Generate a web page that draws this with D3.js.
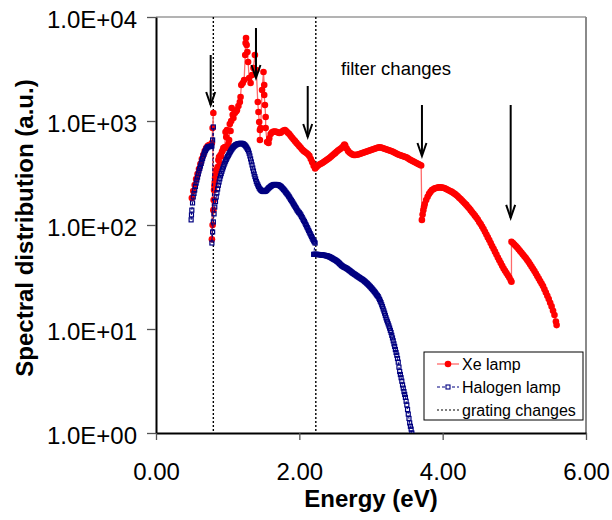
<!DOCTYPE html>
<html><head><meta charset="utf-8">
<script src="https://cdn.jsdelivr.net/npm/d3@7"></script>
<style>body{margin:0;background:#fff}svg{display:block}text{font-family:"Liberation Sans",Arial,Helvetica,sans-serif}</style>
</head><body><svg id="c" width="612" height="520"></svg>
<script>
// ---------- data ----------
const energyTicks = [0, 2, 4, 6];
const spectralTicks = [1, 10, 100, 1000, 10000];
const spectralTickLabels = ["1.0E+00", "1.0E+01", "1.0E+02", "1.0E+03", "1.0E+04"];
const gratingChanges = [0.80, 2.23];
const arrowEnergy = [0.763, 1.395, 2.117, 3.711, 4.949];
const arrowTop = [4313, 7834, 2171, 1425, 1425];
const arrowTip = [1425, 2590, 702, 461, 117];
const legendLabels = ["Xe lamp", "Halogen lamp", "grating changes"];

// Xe lamp [energy eV, spectral value]
const xeGrating1 = [[0.50,182],[0.52,212],[0.54,242],[0.56,277],[0.58,309],[0.60,346],[0.62,386],[0.64,431],[0.66,471],[0.68,515],[0.70,550],[0.72,575],[0.74,588],[0.76,588],[0.78,614],[0.79,857],[0.80,1194]];
const xeGrating2 = [[0.78,73],[0.79,100],[0.80,139],[0.805,174],[0.81,217],[0.815,240],[0.82,259],[0.825,282],[0.83,303],[0.84,338],[0.85,330],[0.86,361],[0.87,422],[0.88,451],[0.89,395],[0.90,471],[0.91,455],[0.92,503],[0.93,520],[0.94,550],[0.96,562],[0.97,784],[0.98,700],[0.99,819],[1.00,550],[1.01,600],[1.02,657],[1.03,936],[1.04,801],[1.05,1000],[1.056,1334],[1.07,1150],[1.08,1069],[1.10,1194],[1.12,1240],[1.13,1276],[1.15,1394],[1.17,1523],[1.18,1700],[1.19,2220],[1.21,2320],[1.23,2479],[1.245,4311],[1.25,5623],[1.256,6283],[1.265,5380],[1.275,4608],[1.285,3692],[1.30,2592],[1.32,2320],[1.34,2770],[1.36,3232],[1.38,4311],[1.40,3093],[1.42,1523],[1.43,1221],[1.44,978],[1.45,819],[1.45,657],[1.46,857],[1.48,1987],[1.50,2959],[1.51,2220],[1.51,1778],[1.52,1425],[1.53,1093],[1.53,857],[1.55,628],[1.57,614],[1.58,680],[1.60,750],[1.62,780],[1.64,790],[1.66,793],[1.68,788],[1.70,775],[1.72,768],[1.74,772],[1.76,793],[1.78,808],[1.80,819],[1.82,798],[1.84,772],[1.86,750],[1.88,718],[1.90,690],[1.92,664],[1.94,640],[1.96,616],[1.98,594],[2.00,573],[2.02,552],[2.04,532],[2.06,516],[2.08,503],[2.10,492],[2.12,478],[2.14,462],[2.16,431],[2.18,402],[2.20,372],[2.22,349]];
const xeGrating3 = [[2.24,362],[2.26,373],[2.28,382],[2.30,388],[2.32,394],[2.34,403],[2.36,412],[2.38,421],[2.40,431],[2.42,441],[2.44,452],[2.46,465],[2.48,478],[2.50,491],[2.52,505],[2.54,519],[2.56,532],[2.58,544],[2.60,560],[2.62,582],[2.63,594],[2.64,580],[2.66,543],[2.68,516],[2.70,498],[2.72,486],[2.74,476],[2.76,472],[2.78,471],[2.80,473],[2.82,476],[2.84,481],[2.86,487],[2.88,492],[2.90,498],[2.92,503],[2.94,509],[2.96,514],[2.98,520],[3.00,526],[3.02,532],[3.04,538],[3.06,544],[3.08,550],[3.10,556],[3.12,558],[3.14,556],[3.16,550],[3.18,544],[3.20,538],[3.22,532],[3.24,526],[3.26,520],[3.28,514],[3.30,509],[3.32,500],[3.34,492],[3.36,484],[3.38,476],[3.40,471],[3.42,466],[3.44,461],[3.46,456],[3.48,451],[3.50,446],[3.52,436],[3.54,426],[3.56,419],[3.58,413],[3.60,406],[3.62,399],[3.64,392],[3.66,386],[3.68,379],[3.70,373]];
const xeGrating4 = [[3.71,112],[3.72,126],[3.73,139],[3.74,150],[3.75,159],[3.77,174],[3.79,187],[3.81,199],[3.83,208],[3.85,217],[3.87,221],[3.89,225],[3.91,227],[3.93,229],[3.95,230],[3.97,230],[3.99,229],[4.01,228],[4.03,225],[4.05,222],[4.07,218],[4.09,215],[4.11,211],[4.13,208],[4.15,203],[4.17,199],[4.19,194],[4.21,189],[4.23,183],[4.25,178],[4.27,172],[4.29,166],[4.31,161],[4.33,156],[4.35,150],[4.37,145],[4.39,139],[4.41,133],[4.43,128],[4.45,123],[4.47,118],[4.49,113],[4.51,107],[4.53,102],[4.55,96.5],[4.57,91.5],[4.59,86],[4.61,81],[4.63,76],[4.65,71.8],[4.67,67],[4.69,62.8],[4.71,59],[4.73,55.4],[4.75,52],[4.77,48.7],[4.79,45.8],[4.81,43.1],[4.83,40.5],[4.85,38.2],[4.87,36.3],[4.89,34.6],[4.91,32.9],[4.93,31.3],[4.95,29.4],[4.96,28.5]];
const xeGrating5 = [[4.96,69.1],[4.98,67],[5.00,64.9],[5.02,62.8],[5.04,60.8],[5.06,58.5],[5.08,56.2],[5.10,54.1],[5.12,52.0],[5.14,50.1],[5.16,48.2],[5.18,46.1],[5.20,44.1],[5.22,42],[5.24,39.9],[5.26,38],[5.28,36.1],[5.30,34.2],[5.32,32.3],[5.34,30.6],[5.36,28.9],[5.38,27.4],[5.40,25.9],[5.42,24.1],[5.44,22.4],[5.46,20.9],[5.48,19.4],[5.50,17.9],[5.52,16.5],[5.54,15],[5.56,13.6],[5.58,11.8],[5.59,10.9]];

// Halogen lamp [energy eV, spectral value]
const halGrating1 = [[0.49,112],[0.495,125],[0.50,139],[0.51,163],[0.52,186],[0.53,201],[0.54,217],[0.55,235],[0.56,253],[0.57,271],[0.58,289],[0.59,310],[0.60,331],[0.61,350],[0.62,369],[0.63,391],[0.64,413],[0.65,437],[0.66,461],[0.67,482],[0.68,503],[0.69,521],[0.70,538],[0.71,550],[0.72,562],[0.73,566],[0.74,569],[0.75,569],[0.76,569],[0.77,572],[0.78,575],[0.79,657],[0.80,876]];
const halGrating2 = [[0.78,67.1],[0.79,85.7],[0.80,107],[0.81,128],[0.82,149],[0.83,168],[0.84,186],[0.85,204],[0.86,222],[0.87,241],[0.88,259],[0.89,278],[0.90,296],[0.91,312],[0.92,329],[0.93,346],[0.94,362],[0.95,379],[0.96,395],[0.97,411],[0.98,426],[0.99,441],[1.00,455],[1.01,469],[1.02,482],[1.03,497],[1.04,512],[1.05,526],[1.06,538],[1.07,551],[1.08,562],[1.09,571],[1.10,580],[1.11,588],[1.12,592],[1.13,597],[1.14,601],[1.15,604],[1.16,606],[1.17,608],[1.18,609],[1.19,609],[1.20,608],[1.21,605],[1.22,600],[1.23,594],[1.24,585],[1.25,575],[1.26,562],[1.27,548],[1.28,533],[1.29,515],[1.30,490],[1.31,461],[1.32,432],[1.33,404],[1.34,378],[1.35,353],[1.36,330],[1.37,309],[1.38,292],[1.39,277],[1.40,262],[1.41,252],[1.42,243],[1.43,235],[1.44,227],[1.45,222],[1.46,218],[1.47,215],[1.48,212],[1.49,211],[1.50,210],[1.51,210],[1.52,211],[1.53,212],[1.54,215],[1.55,218],[1.56,222],[1.57,226],[1.58,229],[1.59,232],[1.60,235],[1.61,238],[1.62,240],[1.63,242],[1.64,243.5],[1.65,245],[1.66,245],[1.67,245],[1.68,245],[1.69,244.5],[1.70,243.5],[1.71,242],[1.72,240],[1.73,238],[1.74,235],[1.75,232],[1.76,228],[1.77,224],[1.78,220],[1.79,216],[1.80,212],[1.81,207],[1.82,203],[1.83,199],[1.84,195],[1.85,190],[1.86,186],[1.87,181],[1.88,176],[1.89,172],[1.90,168],[1.91,163],[1.92,159],[1.93,155],[1.94,151],[1.95,147],[1.96,143],[1.97,139],[1.98,136],[1.99,133],[2.00,131],[2.01,128],[2.02,125],[2.03,121],[2.04,118],[2.05,114],[2.06,111],[2.07,108],[2.08,104.5],[2.09,101],[2.10,97.8],[2.11,94.5],[2.12,91.5],[2.13,88.5],[2.14,85.5],[2.15,82.7],[2.16,80.1],[2.17,77.5],[2.18,75],[2.19,72.5],[2.20,70.5],[2.21,68.8],[2.22,67.1]];
const halGrating3 = [[2.20,52.2],[2.21,52.2],[2.22,52.2],[2.23,52.2],[2.24,52.2],[2.25,52.1],[2.26,52.0],[2.27,52.0],[2.28,51.9],[2.29,51.8],[2.30,51.7],[2.31,51.6],[2.32,51.4],[2.33,51.3],[2.34,51.2],[2.35,51.1],[2.36,50.9],[2.37,50.8],[2.38,50.6],[2.39,50.4],[2.40,50.1],[2.41,49.8],[2.42,49.5],[2.43,49.1],[2.44,48.7],[2.45,48.3],[2.46,47.8],[2.47,47.3],[2.48,46.9],[2.49,46.5],[2.50,46.1],[2.51,45.6],[2.52,45.1],[2.53,44.6],[2.54,44.0],[2.55,43.4],[2.56,42.7],[2.57,42.0],[2.58,41.4],[2.59,40.8],[2.60,40.3],[2.61,39.9],[2.62,39.5],[2.63,39.2],[2.64,38.9],[2.65,38.6],[2.66,38.2],[2.67,37.8],[2.68,37.4],[2.69,36.9],[2.70,36.5],[2.71,36.1],[2.72,35.6],[2.73,35.2],[2.74,34.7],[2.75,34.3],[2.76,34.0],[2.77,33.6],[2.78,33.3],[2.79,32.9],[2.80,32.5],[2.81,32.2],[2.82,31.8],[2.83,31.5],[2.84,31.2],[2.85,30.8],[2.86,30.5],[2.87,30.2],[2.88,29.9],[2.89,29.6],[2.90,29.2],[2.91,28.8],[2.92,28.4],[2.93,28.0],[2.94,27.6],[2.95,27.2],[2.96,26.8],[2.97,26.3],[2.98,25.9],[2.99,25.5],[3.00,25.0],[3.01,24.6],[3.02,24.1],[3.03,23.7],[3.04,23.2],[3.05,22.8],[3.06,22.3],[3.07,21.8],[3.08,21.3],[3.09,20.9],[3.10,20.5],[3.11,19.8],[3.12,19.2],[3.13,18.5],[3.14,17.9],[3.15,17.1],[3.16,16.4],[3.17,15.6],[3.18,14.9],[3.19,14.2],[3.20,13.5],[3.21,12.8],[3.22,12.2],[3.23,11.7],[3.24,11.2],[3.25,10.7],[3.26,10.2],[3.27,9.7],[3.28,9.25],[3.29,8.7],[3.30,8.2],[3.31,7.7],[3.32,7.2],[3.33,6.8],[3.34,6.35],[3.35,5.95],[3.36,5.6],[3.37,5.2],[3.38,4.8],[3.39,4.3],[3.40,3.9],[3.41,3.65],[3.42,3.4],[3.43,3.15],[3.44,2.9],[3.45,2.7],[3.46,2.5],[3.47,2.35],[3.48,2.2],[3.49,2.02],[3.50,1.86],[3.51,1.68],[3.52,1.52],[3.53,1.38],[3.54,1.25],[3.55,1.16],[3.56,1.09],[3.57,1.0]];

const xeLamp = [...xeGrating1, ...xeGrating2, ...xeGrating3, ...xeGrating4, ...xeGrating5];
const halogenLamp = [...halGrating1, ...halGrating2, ...halGrating3];

// ---------- drawing ----------
const svg = d3.select("#c");
const L = 156, R = 586, T = 17, B = 433;
const x = d3.scaleLinear().domain([0, 6]).range([L, R]);
const y = d3.scaleLog().domain([1, 10000]).range([B, T]);
const font = '"Liberation Sans",Arial,Helvetica,sans-serif';

svg.append("defs").append("clipPath").attr("id", "plot")
  .append("rect").attr("x", L).attr("y", T - 2).attr("width", R - L).attr("height", B - T + 2);

// frame top/right
svg.append("line").attr("x1", L).attr("x2", R).attr("y1", T).attr("y2", T).attr("stroke", "#9a9a9a").attr("stroke-width", 1.5);
svg.append("line").attr("x1", R).attr("x2", R).attr("y1", T).attr("y2", B).attr("stroke", "#8a8a8a").attr("stroke-width", 2);

// grating change lines
svg.append("g").selectAll("line").data(gratingChanges).join("line")
  .attr("x1", d => x(d)).attr("x2", d => x(d)).attr("y1", T).attr("y2", B)
  .attr("stroke", "#000").attr("stroke-width", 1.4).attr("stroke-dasharray", "2,2");

// axes
const yAxis = d3.axisLeft(y).tickValues(spectralTicks).tickFormat((d, i) => spectralTickLabels[i])
  .tickSizeInner(9).tickSizeOuter(0).tickPadding(10);
const gy = svg.append("g").attr("transform", `translate(${L},0)`).call(yAxis);
const xAxis = d3.axisBottom(x).tickValues(energyTicks).tickFormat(d3.format(".2f"))
  .tickSizeInner(7).tickSizeOuter(0).tickPadding(23);
const gx = svg.append("g").attr("transform", `translate(0,${B})`).call(xAxis);
[gy, gx].forEach(g => {
  g.select(".domain").attr("stroke", "#000").attr("stroke-width", 2);
  g.selectAll(".tick line").attr("stroke", "#555").attr("stroke-width", 1.3);
  g.selectAll(".tick text").attr("font-family", font).attr("font-size", 24).attr("fill", "#000");
});
gy.selectAll(".tick text").attr("dy", "0.42em");
gx.selectAll(".tick text").attr("dy", "0.71em");

// axis titles
svg.append("text").attr("x", 371).attr("y", 507).attr("text-anchor", "middle")
  .attr("font-family", font).attr("font-size", 24).attr("font-weight", "bold").text("Energy (eV)");
svg.append("text").attr("transform", "translate(33,228) rotate(-90)").attr("text-anchor", "middle")
  .attr("font-family", font).attr("font-size", 24).attr("font-weight", "bold").text("Spectral distribution (a.u.)");

// series
const plot = svg.append("g").attr("clip-path", "url(#plot)");
const line = d3.line().x(d => x(d[0])).y(d => y(d[1]));
plot.append("path").datum(xeLamp).attr("d", line).attr("fill", "none")
  .attr("stroke", "#ff6a6a").attr("stroke-width", 1.3);
plot.append("g").selectAll("circle").data(xeLamp).join("circle")
  .attr("cx", d => x(d[0])).attr("cy", d => y(d[1])).attr("r", 3.3).attr("fill", "#ff0000");
plot.append("path").datum(halogenLamp).attr("d", line).attr("fill", "none")
  .attr("stroke", "#000080").attr("stroke-width", 1).attr("stroke-dasharray", "3,2");
plot.append("g").selectAll("rect").data(halogenLamp).join("rect")
  .attr("x", d => x(d[0]) - 2).attr("y", d => y(d[1]) - 2).attr("width", 4).attr("height", 4)
  .attr("fill", "none").attr("stroke", "#000080").attr("stroke-width", 1.2);

// arrows
const arrows = svg.append("g").attr("stroke", "#000").attr("stroke-width", 2).attr("fill", "none");
arrowEnergy.forEach((e, i) => {
  const ax = x(e), y0 = y(arrowTop[i]), y1 = y(arrowTip[i]);
  arrows.append("line").attr("x1", ax).attr("x2", ax).attr("y1", y0).attr("y2", y1);
  arrows.append("path").attr("d", `M${ax - 4.5},${y1 - 13}L${ax},${y1}L${ax + 4.5},${y1 - 13}`);
});

svg.append("text").attr("x", 341).attr("y", 75).attr("font-family", font).attr("font-size", 18.5).text("filter changes");

// legend
const lg = svg.append("g");
lg.append("rect").attr("x", 424).attr("y", 352).attr("width", 159).attr("height", 68)
  .attr("fill", "#fff").attr("stroke", "#000").attr("stroke-width", 1);
const rowY = [364, 387, 410];
lg.append("line").attr("x1", 437).attr("x2", 459).attr("y1", rowY[0]).attr("y2", rowY[0]).attr("stroke", "#ff6a6a").attr("stroke-width", 1.3);
lg.append("circle").attr("cx", 448).attr("cy", rowY[0]).attr("r", 3.3).attr("fill", "#ff0000");
lg.append("line").attr("x1", 437).attr("x2", 459).attr("y1", rowY[1]).attr("y2", rowY[1]).attr("stroke", "#000080").attr("stroke-width", 1).attr("stroke-dasharray", "3,2");
lg.append("rect").attr("x", 446).attr("y", rowY[1] - 2).attr("width", 4).attr("height", 4).attr("fill", "#fff").attr("stroke", "#000080").attr("stroke-width", 1.1);
lg.append("line").attr("x1", 437).attr("x2", 459).attr("y1", rowY[2]).attr("y2", rowY[2]).attr("stroke", "#000").attr("stroke-width", 1.2).attr("stroke-dasharray", "2,2");
lg.selectAll("text.lab").data(legendLabels).join("text").attr("class", "lab")
  .attr("x", 462).attr("y", (d, i) => rowY[i] + 5.5).attr("font-family", font).attr("font-size", 16).text(d => d);
</script></body></html>
